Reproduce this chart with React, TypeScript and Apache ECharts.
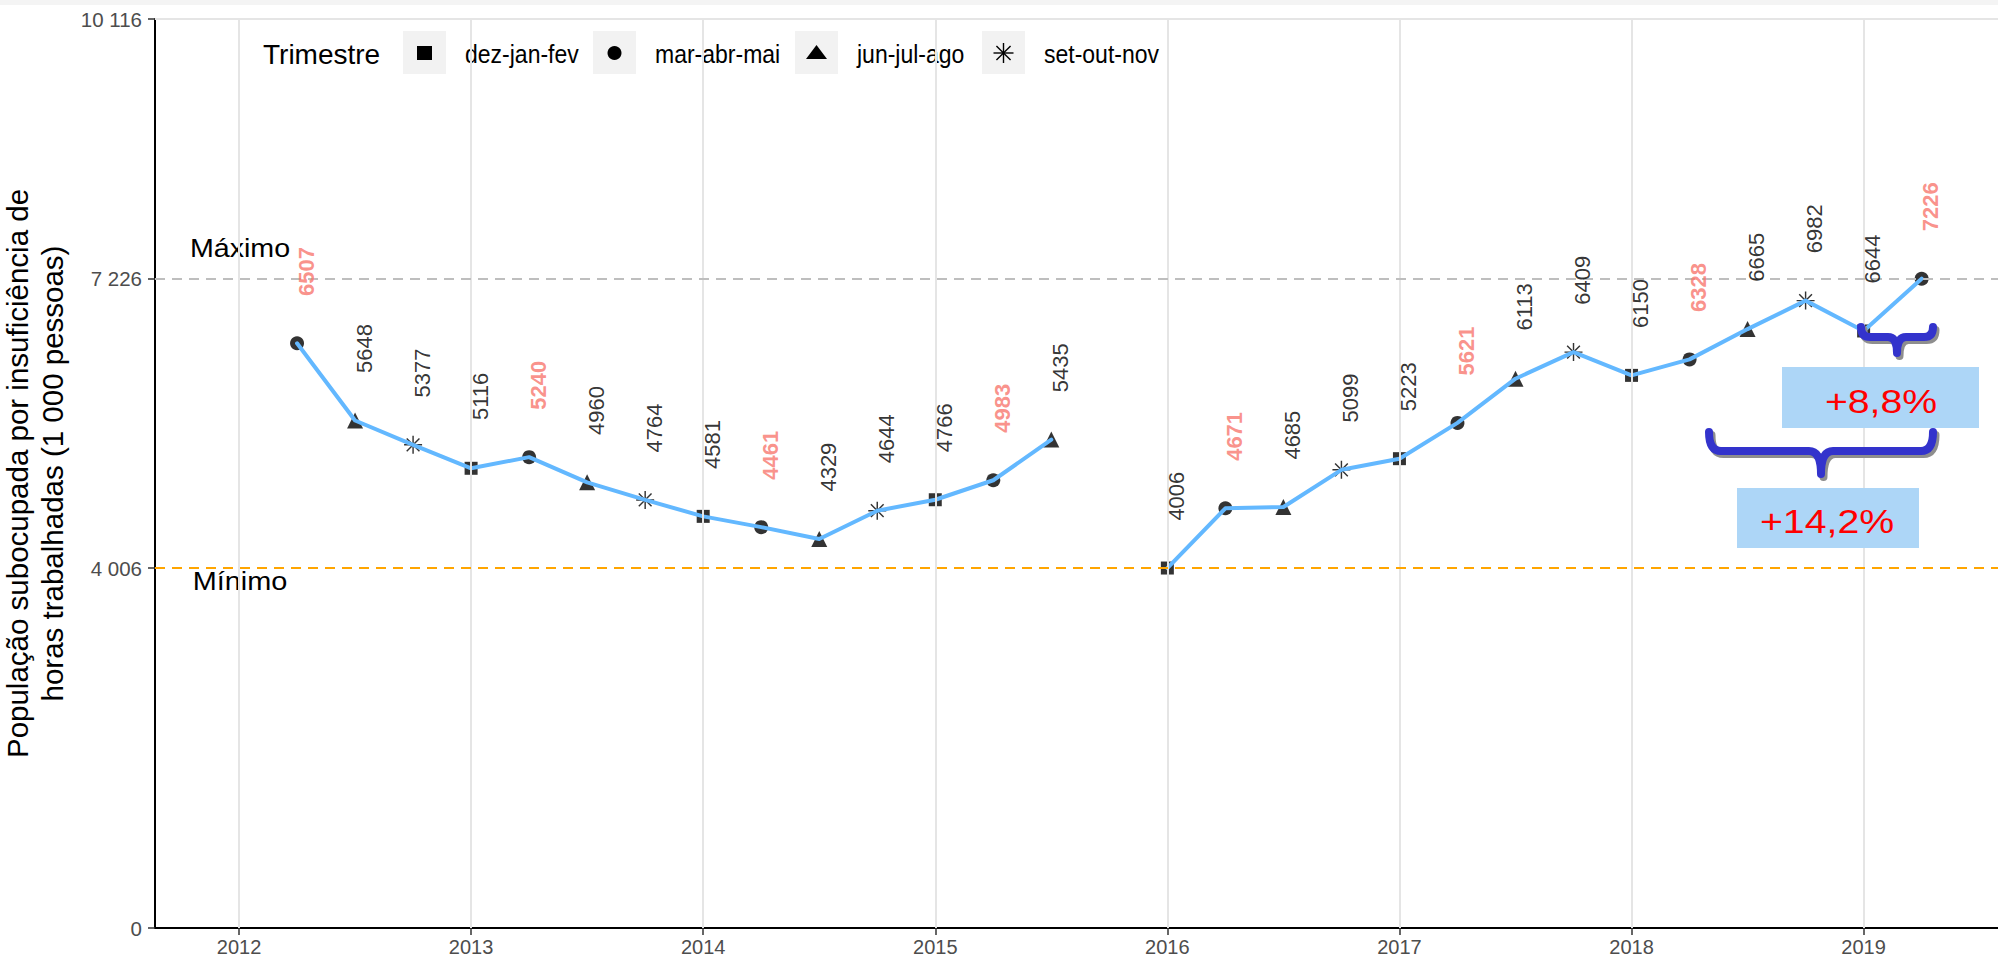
import React, { useEffect, useRef } from 'react';
import * as echarts from 'echarts';

const FONT = '"Liberation Sans", Arial, Helvetica, sans-serif';

// Quarter positions on the time axis (year + fraction of year)
const quarterPos = [
  2012.25, 2012.5, 2012.75, 2013, 2013.25, 2013.5, 2013.75, 2014, 2014.25, 2014.5,
  2014.75, 2015, 2015.25, 2015.5, 2015.75, 2016, 2016.25, 2016.5, 2016.75, 2017,
  2017.25, 2017.5, 2017.75, 2018, 2018.25, 2018.5, 2018.75, 2019, 2019.25,
];
const trimestreOf = [
  'mar-abr-mai', 'jun-jul-ago', 'set-out-nov', 'dez-jan-fev',
  'mar-abr-mai', 'jun-jul-ago', 'set-out-nov', 'dez-jan-fev',
  'mar-abr-mai', 'jun-jul-ago', 'set-out-nov', 'dez-jan-fev',
  'mar-abr-mai', 'jun-jul-ago', 'set-out-nov', 'dez-jan-fev',
  'mar-abr-mai', 'jun-jul-ago', 'set-out-nov', 'dez-jan-fev',
  'mar-abr-mai', 'jun-jul-ago', 'set-out-nov', 'dez-jan-fev',
  'mar-abr-mai', 'jun-jul-ago', 'set-out-nov', 'dez-jan-fev',
  'mar-abr-mai',
];
const values: (number | null)[] = [
  6507, 5648, 5377, 5116, 5240, 4960, 4764, 4581, 4461, 4329,
  4644, 4766, 4983, 5435, null, 4006, 4671, 4685, 5099, 5223,
  5621, 6113, 6409, 6150, 6328, 6665, 6982, 6644, 7226,
];
const trimestres = ['dez-jan-fev', 'mar-abr-mai', 'jun-jul-ago', 'set-out-nov'];
const highlighted = 'mar-abr-mai';
const yearTicks = [2012, 2013, 2014, 2015, 2016, 2017, 2018, 2019];
const yTicks = [0, 4006, 7226, 10116];
const maximo = 7226;
const minimo = 4006;
const LABEL_NUDGE = 800;
const variationTexts = ['+8,8%', '+14,2%'];
const yTitle = 'População subocupada por insuficiência de\nhoras trabalhadas (1 000 pessoas)';

const ASTERISK =
  'path://M-0.08,-1L0.08,-1L0.08,1L-0.08,1Z M-1,-0.08L1,-0.08L1,0.08L-1,0.08Z ' +
  'M-0.65,-0.764L0.764,0.65L0.65,0.764L-0.764,-0.65Z M0.764,-0.65L-0.65,0.764L-0.764,0.65L0.65,-0.764Z';

const symbolOf: Record<string, string> = {
  'dez-jan-fev': 'rect',
  'mar-abr-mai': 'circle',
  'jun-jul-ago': 'triangle',
  'set-out-nov': ASTERISK,
};
const symbolSizeOf: Record<string, number> = {
  'dez-jan-fev': 13,
  'mar-abr-mai': 14,
  'jun-jul-ago': 16,
  'set-out-nov': 18,
};

const fmtThousands = (v: number) => String(v).replace(/\B(?=(\d{3})+(?!\d))/g, ' ');

let braceRegistered = false;
function registerBrace() {
  if (braceRegistered) return;
  braceRegistered = true;
  const Brace = (echarts.graphic as any).extendShape({
    type: 'brace',
    shape: { x1: 0, x2: 0, yTop: 0, yBar: 0, yTip: 0, r: 10 },
    buildPath(ctx: any, s: any) {
      const m = (s.x1 + s.x2) / 2;
      const r = s.r;
      ctx.moveTo(s.x1, s.yTop);
      ctx.quadraticCurveTo(s.x1, s.yBar, s.x1 + r, s.yBar);
      ctx.lineTo(m - r, s.yBar);
      ctx.quadraticCurveTo(m, s.yBar, m, s.yTip);
      ctx.moveTo(s.x2, s.yTop);
      ctx.quadraticCurveTo(s.x2, s.yBar, s.x2 - r, s.yBar);
      ctx.lineTo(m + r, s.yBar);
      ctx.quadraticCurveTo(m, s.yBar, m, s.yTip);
    },
  });
  (echarts.graphic as any).registerShape('brace', Brace);
}

function braceElements(shape: any) {
  return [
    {
      type: 'brace',
      shape: { ...shape, x1: shape.x1 + 2.5, x2: shape.x2 + 2.5, yTop: shape.yTop + 3, yBar: shape.yBar + 3, yTip: shape.yTip + 3 },
      style: { stroke: '#8E8E8E', lineWidth: 8, fill: 'none', lineCap: 'round', lineJoin: 'round' },
      z: 20,
    },
    {
      type: 'brace',
      shape,
      style: { stroke: '#3333CC', lineWidth: 8, fill: 'none', lineCap: 'round', lineJoin: 'round' },
      z: 21,
    },
  ];
}

function legendElements() {
  const els: any[] = [];
  els.push({
    type: 'text', x: 263, y: 54,
    style: { text: 'Trimestre', fontSize: 28, fontFamily: FONT, fill: '#000', textAlign: 'left', textVerticalAlign: 'middle' },
  });
  const boxes = [403, 593, 795, 982];
  const textX = [465, 655, 857, 1044];
  trimestres.forEach((t, i) => {
    const bx = boxes[i];
    const cx = bx + 21.5;
    const cy = 53;
    els.push({ type: 'rect', shape: { x: bx, y: 31, width: 43, height: 43 }, style: { fill: '#F2F2F2' } });
    if (symbolOf[t] === 'rect') {
      els.push({ type: 'rect', shape: { x: cx - 7.5, y: cy - 7, width: 15, height: 14 }, style: { fill: '#000' } });
    } else if (symbolOf[t] === 'circle') {
      els.push({ type: 'circle', shape: { cx, cy, r: 7 }, style: { fill: '#000' } });
    } else if (symbolOf[t] === 'triangle') {
      els.push({ type: 'polygon', shape: { points: [[cx, cy - 8], [cx + 10.5, cy + 6], [cx - 10.5, cy + 6]] }, style: { fill: '#000' } });
    } else {
      const r = 10;
      const d = r * 0.707;
      [[0, -r, 0, r], [-r, 0, r, 0], [-d, -d, d, d], [-d, d, d, -d]].forEach((l) => {
        els.push({ type: 'line', shape: { x1: cx + l[0], y1: cy + l[1], x2: cx + l[2], y2: cy + l[3] }, style: { stroke: '#000', lineWidth: 1.4 } });
      });
    }
    els.push({
      type: 'text', x: textX[i], y: 54, scaleX: 0.92,
      style: { text: t, fontSize: 25, fontFamily: FONT, fill: '#000', textAlign: 'left', textVerticalAlign: 'middle' },
    });
  });
  return els;
}

export default function App() {
  const ref = useRef<HTMLDivElement>(null);

  useEffect(() => {
    document.body.style.margin = '0';
    registerBrace();
    const chart = echarts.init(ref.current as HTMLDivElement, null, { renderer: 'svg' });

    const scatterSeries = trimestres.map((t) => ({
      name: t,
      type: 'scatter',
      symbol: symbolOf[t],
      symbolSize: symbolSizeOf[t],
      itemStyle: { color: '#000' },
      z: 3,
      silent: true,
      data: quarterPos
        .map((x, i) => (trimestreOf[i] === t && values[i] != null ? [x, values[i]] : null))
        .filter((d) => d !== null),
    }));

    const labelData = quarterPos
      .map((x, i) => {
        const v = values[i];
        if (v == null) return null;
        const hi = trimestreOf[i] === highlighted;
        return {
          value: [x, v + LABEL_NUDGE, v],
          label: hi ? { color: '#F8766D', fontWeight: 'bold' } : { color: '#000', fontWeight: 'normal' },
        };
      })
      .filter((d) => d !== null);

    const option: any = {
      animation: false,
      backgroundColor: '#fff',
      grid: { left: 155, right: 0, top: 19, bottom: 32, containLabel: false, outerBoundsMode: 'none' },
      xAxis: {
        type: 'value',
        min: 2011.638,
        max: 2019.579,
        axisLine: { show: true, lineStyle: { color: '#000', width: 2 } },
        axisTick: { show: true, customValues: yearTicks, length: 7, lineStyle: { color: '#333', width: 1.5 } },
        axisLabel: { show: true, customValues: yearTicks, fontSize: 20, lineHeight: 20, color: '#4D4D4D', fontFamily: FONT, margin: 9, formatter: (v: number) => String(v) },
        splitLine: { show: false },
      },
      yAxis: {
        type: 'value',
        min: 0,
        max: 10116,
        name: yTitle,
        nameLocation: 'middle',
        nameRotate: 90,
        nameGap: 76,
        nameTextStyle: { fontSize: 29.5, lineHeight: 35, color: '#000', fontFamily: FONT, align: 'center' },
        axisLine: { show: true, lineStyle: { color: '#000', width: 2 } },
        axisTick: { show: true, customValues: yTicks, length: 7, lineStyle: { color: '#333', width: 1.5 } },
        axisLabel: { show: true, customValues: yTicks, fontSize: 20.5, color: '#4D4D4D', fontFamily: FONT, margin: 13, formatter: (v: number) => fmtThousands(v) },
        splitLine: { show: false },
      },
      series: [
        {
          name: 'grade',
          type: 'line',
          data: [],
          silent: true,
          z: 1,
          markLine: {
            silent: true,
            animation: false,
            symbol: ['none', 'none'],
            label: { show: false },
            lineStyle: { color: '#E5E5E5', width: 2, type: 'solid' },
            data: [...yearTicks.map((y) => ({ xAxis: y })), { yAxis: yTicks[yTicks.length - 1] }],
          },
        },
        {
          name: 'referencias',
          type: 'line',
          data: [],
          silent: true,
          z: 2,
          markLine: {
            silent: true,
            animation: false,
            symbol: ['none', 'none'],
            label: { show: false },
            data: [
              { yAxis: maximo, lineStyle: { color: '#BEBEBE', width: 2, type: [10, 7] } },
              { yAxis: minimo, lineStyle: { color: '#FFA500', width: 2, type: [10, 7] } },
            ],
          },
        },
        ...scatterSeries,
        {
          name: 'linha',
          type: 'line',
          z: 4,
          silent: true,
          symbol: 'none',
          showSymbol: false,
          connectNulls: false,
          lineStyle: { color: '#63B8FF', width: 4, cap: 'round', join: 'round' },
          data: quarterPos.map((x, i) => [x, values[i] == null ? '-' : values[i]]),
        },
        {
          name: 'rotulos',
          type: 'scatter',
          z: 5,
          silent: true,
          symbolSize: 1,
          itemStyle: { color: 'rgba(0,0,0,0)' },
          label: {
            show: true,
            position: 'inside',
            rotate: 90,
            fontSize: 22,
            lineHeight: 18,
            fontFamily: FONT,
            align: 'center',
            verticalAlign: 'top',
            formatter: (p: any) => String(p.value[2]),
          },
          data: labelData,
        },
      ],
      graphic: [
        { type: 'rect', shape: { x: 0, y: 0, width: 1998, height: 5 }, style: { fill: '#F4F4F4' }, silent: true },
        {
          type: 'text', x: 240, y: 248, scaleX: 1.08,
          style: { text: 'Máximo', fontSize: 26.5, fontFamily: FONT, fill: '#000', textAlign: 'center', textVerticalAlign: 'middle' },
        },
        {
          type: 'text', x: 240, y: 581, scaleX: 1.09,
          style: { text: 'Mínimo', fontSize: 26.5, fontFamily: FONT, fill: '#000', textAlign: 'center', textVerticalAlign: 'middle' },
        },
        ...legendElements(),
        ...braceElements({ x1: 1861, x2: 1933, yTop: 327, yBar: 337, yTip: 353, r: 9 }),
        ...braceElements({ x1: 1709, x2: 1933, yTop: 432, yBar: 451, yTip: 474, r: 12 }),
        { type: 'rect', shape: { x: 1782, y: 367, width: 197, height: 61 }, style: { fill: '#ADD6F7' }, z: 22 },
        {
          type: 'text', x: 1881, y: 402, scaleX: 1.17, z: 23,
          style: { text: variationTexts[0], fontSize: 33.5, fontFamily: FONT, fill: '#FF0000', textAlign: 'center', textVerticalAlign: 'middle' },
        },
        { type: 'rect', shape: { x: 1737, y: 488, width: 182, height: 60 }, style: { fill: '#ADD6F7' }, z: 22 },
        {
          type: 'text', x: 1827, y: 521, scaleX: 1.155, z: 23,
          style: { text: variationTexts[1], fontSize: 34, fontFamily: FONT, fill: '#FF0000', textAlign: 'center', textVerticalAlign: 'middle' },
        },
      ],
    };

    chart.setOption(option);
    return () => chart.dispose();
  }, []);

  return <div ref={ref} style={{ position: 'fixed', left: 0, top: 0, width: 1998, height: 960 }} />;
}
